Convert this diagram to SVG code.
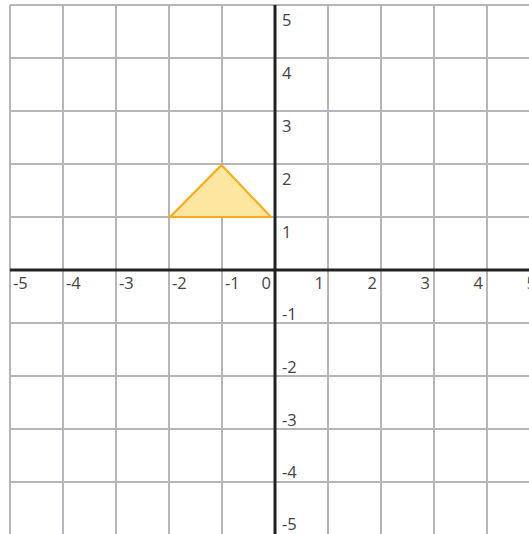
<svg xmlns="http://www.w3.org/2000/svg" width="529" height="534" viewBox="0 0 529 534">
<style>
.g{stroke:#b6b6ba;stroke-width:2;fill:none}
.ax{stroke:#222;stroke-width:3;fill:none}
text{font-family:"Open Sans","Noto Sans",sans-serif;font-size:16.5px;fill:#444}
.r{text-anchor:end}
</style>
<rect width="529" height="534" fill="#fff"/>
<g id="grid">
<path class="g" d="M10 5V534M63 5V534M116 5V534M169 5V534M222 5V534M328 5V534M381 5V534M434 5V534M487 5V534"/>
<path class="g" d="M10 5H529M10 58H529M10 111H529M10 164H529M10 217H529M10 323H529M10 376H529M10 429H529M10 482H529"/>
</g>
<g id="axes">
<path class="ax" d="M10 270H529M275 5V534"/>
</g>
<g id="triangle">
<polygon points="170,217 221.5,165 271,217" fill="#fde6a0" stroke="#f8ad1c" stroke-width="2.2" stroke-linejoin="round"/>
</g>
<g id="xlabels">
<text x="13" y="289">-5</text>
<text x="66" y="289">-4</text>
<text x="119" y="289">-3</text>
<text x="172" y="289">-2</text>
<text x="225" y="289">-1</text>
<text class="r" x="271" y="289">0</text>
<text class="r" x="324" y="289">1</text>
<text class="r" x="377" y="289">2</text>
<text class="r" x="430" y="289">3</text>
<text class="r" x="483" y="289">4</text>
<text class="r" x="536" y="289">5</text>
</g>
<g id="ylabels">
<text x="282" y="26">5</text>
<text x="282" y="79">4</text>
<text x="282" y="132">3</text>
<text x="282" y="185">2</text>
<text x="282" y="238">1</text>
<text x="282" y="320">-1</text>
<text x="282" y="373">-2</text>
<text x="282" y="426">-3</text>
<text x="282" y="478">-4</text>
<text x="282" y="530">-5</text>
</g>
</svg>
